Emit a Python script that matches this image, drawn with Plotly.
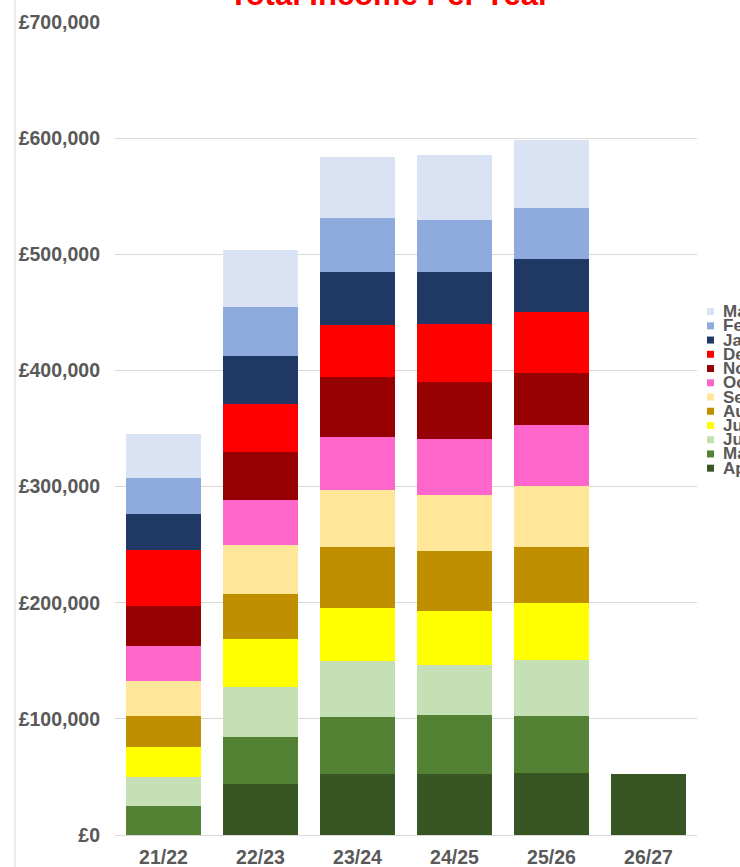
import plotly.graph_objects as go

years = ["21/22", "22/23", "23/24", "24/25", "25/26", "26/27"]
months = ["Apr", "May", "Jun", "Jul", "Aug", "Sep", "Oct", "Nov", "Dec", "Jan", "Feb", "Mar"]

apr = [0, 43570, 52780, 52520, 53380, 52780]
may = [25230, 40810, 49080, 50800, 48730, 0]
jun = [24970, 42710, 47610, 42710, 48560, 0]
jul = [25570, 41930, 45630, 46840, 49340, 0]
aug = [26690, 38140, 53120, 51660, 48220, 0]
sep = [30140, 42790, 48820, 47870, 52520, 0]
oct_ = [30390, 38140, 45890, 48820, 51920, 0]
nov = [33840, 41670, 51400, 48480, 45120, 0]
dec = [48820, 41330, 45030, 50280, 52180, 0]
jan = [31000, 41330, 45630, 45030, 46240, 0]
feb = [31000, 42450, 46240, 44770, 43310, 0]
mar = [37880, 48480, 52180, 55970, 59150, 0]

series = [apr, may, jun, jul, aug, sep, oct_, nov, dec, jan, feb, mar]
colors = ["#375623", "#548235", "#C5E0B4", "#FFFF00", "#BF8F00", "#FFE699",
          "#FF66CC", "#960000", "#FF0000", "#203864", "#8FAADC", "#DAE3F3"]

fig = go.Figure()
for name, vals, col in zip(months, series, colors):
    fig.add_trace(go.Bar(x=years, y=vals, name=name, marker=dict(color=col, line=dict(width=0)),
                         showlegend=False))

# plot area geometry (pixels) for manual legend
L, R, T, B = 115, 697, 22, 835.3
W, H = R - L, B - T
txtcol = "#595959"
tickfont = dict(family="Liberation Sans", size=19.5, color=txtcol, weight="bold")
annotations = []
shapes = []
for i, (name, col) in enumerate(zip(reversed(months), reversed(colors))):
    py = 311.7 + 14.24 * i
    yc = (B - py) / H
    shapes.append(dict(type="rect", xref="paper", yref="paper",
                       x0=(707 - L) / W, x1=(714 - L) / W,
                       y0=yc - 3.5 / H, y1=yc + 3.5 / H,
                       fillcolor=col, line=dict(width=0)))
    annotations.append(dict(text=name, xref="paper", yref="paper", x=(721 - L) / W, y=yc,
                            xanchor="left", yanchor="middle", showarrow=False,
                            font=dict(family="Liberation Sans", size=17, color=txtcol, weight="bold")))

# title (partially cut off at top)
annotations.append(dict(text="Total Income Per Year", xref="paper", yref="paper",
                        x=(389 - L) / W, y=1 + (T - 14) / H, xanchor="center", yanchor="bottom",
                        showarrow=False,
                        font=dict(family="Liberation Sans", size=31, color="#FF0000", weight="bold")))

# left border line
shapes.append(dict(type="line", xref="paper", yref="paper", x0=(15 - L) / W, x1=(15 - L) / W,
                   y0=-0.2, y1=1.2, line=dict(color="#d9d9d9", width=1)))

fig.update_layout(
    barmode="stack",
    bargap=0.237,
    width=740, height=867,
    margin=dict(l=L, r=740 - R, t=T, b=867 - B),
    plot_bgcolor="white", paper_bgcolor="white",
    annotations=annotations, shapes=shapes,
    xaxis=dict(showline=False, ticks="", ticklabelstandoff=8, automargin=False,
               tickfont=tickfont),
    yaxis=dict(range=[0, 700000], dtick=100000, tickprefix="£", tickformat=",d",
               showgrid=True, gridcolor="#d9d9d9", gridwidth=1, zeroline=True,
               zerolinecolor="#d9d9d9", zerolinewidth=1, ticks="", ticklabelstandoff=14,
               automargin=False, tickfont=tickfont),
)

fig.write_html("out.html", config={"displayModeBar": False},
               post_script="document.body.style.margin='0';document.body.style.overflow='hidden';")
